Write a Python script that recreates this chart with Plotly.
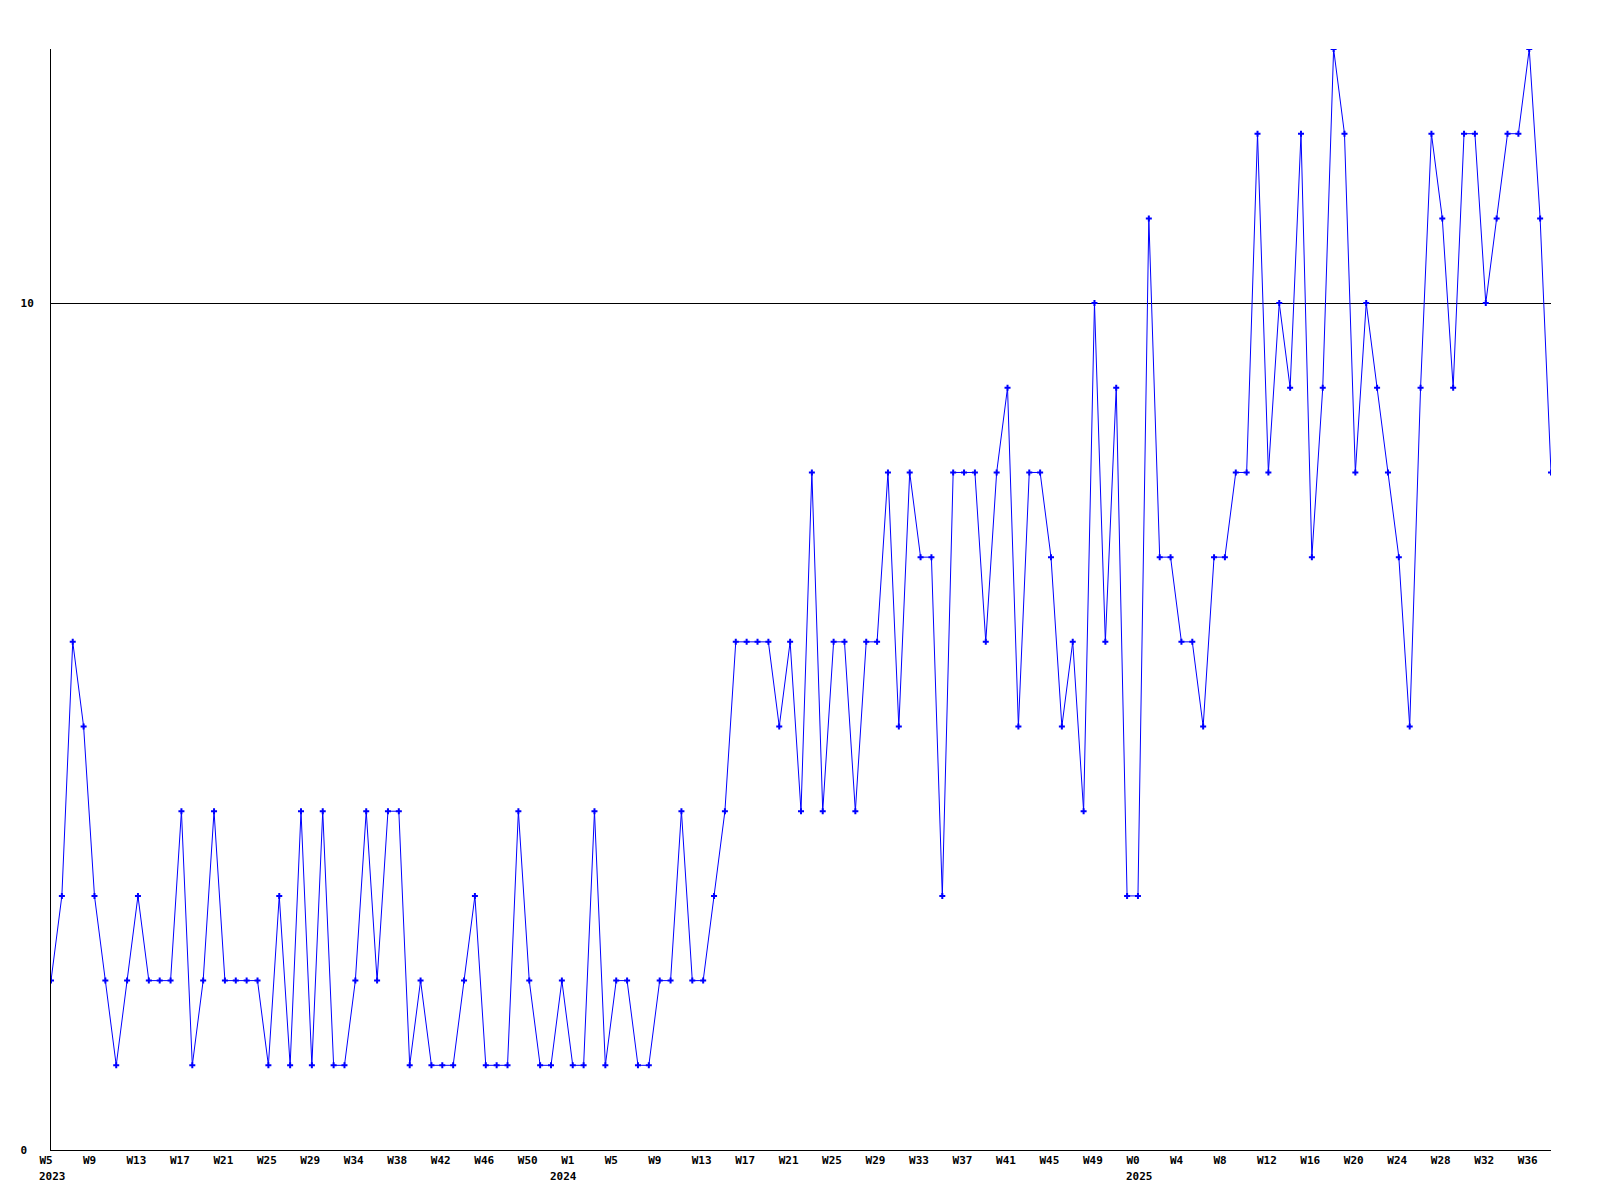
import plotly.graph_objects as go

# Weekly counts, W5 2023 .. W38 2025 (one value per week point)
values = [
    2, 3, 6, 5, 3, 2, 1, 2, 3, 2, 2, 2, 4, 1, 2, 4, 2, 2, 2, 2,
    1, 3, 1, 4, 1, 4, 1, 1, 2, 4, 2, 4, 4, 1, 2, 1, 1, 1, 2, 3,
    1, 1, 1, 4, 2, 1, 1, 2, 1, 1, 4, 1, 2, 2, 1, 1, 2, 2, 4, 2,
    2, 3, 4, 6, 6, 6, 6, 5, 6, 4, 8, 4, 6, 6, 4, 6, 6, 8, 5, 8,
    7, 7, 3, 8, 8, 8, 6, 8, 9, 5, 8, 8, 7, 5, 6, 4, 10, 6, 9, 3,
    3, 11, 7, 7, 6, 6, 5, 7, 7, 8, 8, 12, 8, 10, 9, 12, 7, 9, 13, 12,
    8, 10, 9, 8, 7, 5, 9, 12, 11, 9, 12, 12, 10, 11, 12, 12, 13, 11, 8,
]

week_labels = [
    "W5", "W9", "W13", "W17", "W21", "W25", "W29", "W34", "W38", "W42", "W46", "W50",
    "W1", "W5", "W9", "W13", "W17", "W21", "W25", "W29", "W33", "W37", "W41", "W45", "W49",
    "W0", "W4", "W8", "W12", "W16", "W20", "W24", "W28", "W32", "W36",
]
label_step = 4

year_labels = ["2023", "2024", "2025"]
year_positions = [0, 47, 100]  # point index where each year starts

y_tick_vals = [0, 10]
y_tick_text = ["0\u00a0", "10"]

x = list(range(len(values)))
tick_vals = [i * label_step for i in range(len(week_labels))]

FONT = "DejaVu Sans Mono"
tfont = dict(family=FONT, size=11, color="black", weight="bold")

fig = go.Figure(
    go.Scatter(
        x=x, y=values, mode="lines+markers",
        line=dict(color="#0000ff", width=1),
        marker=dict(symbol="cross", size=5, color="#0000ff", line=dict(width=0)),
        hoverinfo="skip",
    )
)

for yl, xp in zip(year_labels, year_positions):
    fig.add_annotation(
        x=xp, y=0, xref="x", yref="paper",
        text=yl, showarrow=False,
        xanchor="left", yanchor="middle",
        xshift=-14, yshift=-26,
        font=tfont,
    )

fig.update_layout(
    width=1600, height=1200,
    margin=dict(l=51, r=49, t=49, b=50),
    paper_bgcolor="white", plot_bgcolor="white",
    showlegend=False,
    font=dict(family=FONT, size=11, color="black"),
)
fig.update_xaxes(
    range=[0, len(values) - 1],
    tickmode="array", tickvals=tick_vals, ticktext=week_labels,
    tickangle=0,
    showgrid=False, zeroline=False,
    showline=True, linecolor="black", linewidth=1,
    ticks="", ticklabelposition="outside right", ticklabelshift=-12,
    tickfont=tfont,
)
fig.update_yaxes(
    range=[0, 13],
    tickmode="array", tickvals=y_tick_vals, ticktext=y_tick_text,
    showgrid=True, gridcolor="black", gridwidth=1,
    zeroline=False,
    showline=True, linecolor="black", linewidth=1,
    ticks="", ticklabelstandoff=14,
    tickfont=tfont,
)

fig.write_html(
    "out.html",
    config={"displayModeBar": False},
    post_script="document.body.style.margin='0';document.body.style.overflow='hidden';",
)
